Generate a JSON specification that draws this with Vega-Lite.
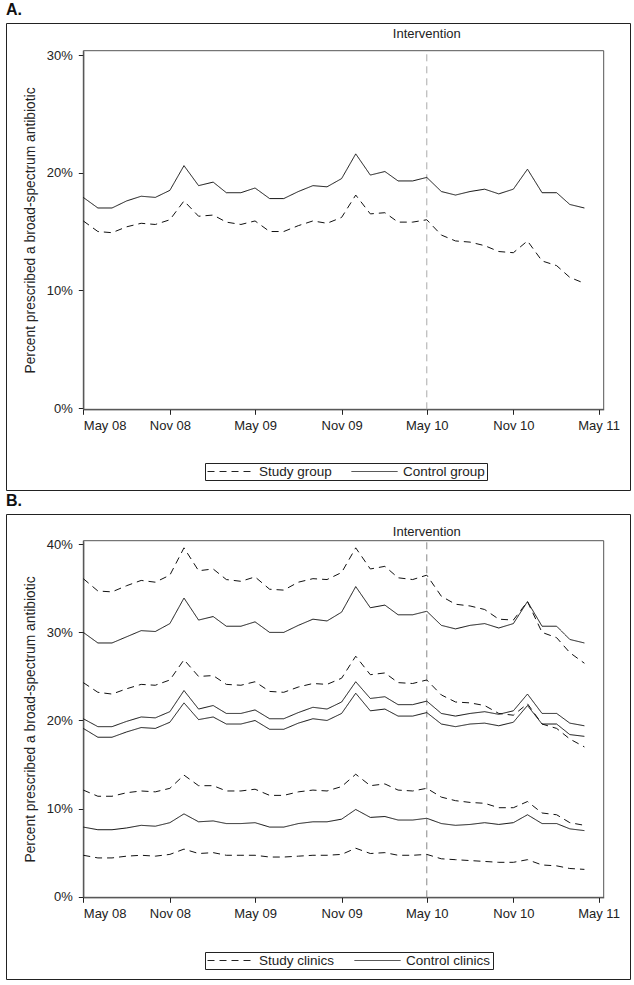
{
  "$schema": "https://vega.github.io/schema/vega-lite/v6.json",
  "padding": {"left": 5, "top": 1, "right": 5, "bottom": 6},
  "spacing": 1,
  "resolve": {"scale": {"strokeDash": "independent", "x": "independent", "y": "independent"}, "legend": {"strokeDash": "independent"}},
  "config": {
    "font": "Liberation Sans",
    "view": {"stroke": "#222", "strokeWidth": 1},
    "axis": {"labelFont": "Liberation Sans", "titleFont": "Liberation Sans", "labelFontSize": 13, "titleFontSize": 13.8, "titleFontWeight": "normal", "labelColor": "#222", "titleColor": "#222", "tickColor": "#222", "domainColor": "#222", "grid": false, "tickSize": 5},
    "legend": {"labelFont": "Liberation Sans", "labelFontSize": 13.5, "labelColor": "#222", "symbolType": "stroke", "symbolSize": 2116, "symbolStrokeWidth": 1, "symbolStrokeColor": "#222", "strokeColor": "#222", "fillColor": "white", "padding": 2, "clipHeight": 13, "labelOffset": 5, "columnPadding": 10, "gridAlign": "all"},
    "title": {"anchor": "start", "frame": "group", "fontSize": 16, "fontWeight": "bold", "font": "Liberation Sans", "offset": 5, "baseline": "alphabetic", "color": "#111"}
  },
  "vconcat": [
    {
      "width": 624,
      "height": 467,
      "title": {"text": "A."},
      "layer": [
        {
          "data": {"values": [{}]},
          "mark": {"type": "rect", "filled": false, "stroke": "#555", "strokeWidth": 1},
          "encoding": {
            "x": {"datum": {"year": 2008, "month": 5, "date": 1}, "type": "temporal", "title": null},
            "x2": {"datum": {"year": 2011, "month": 5, "date": 12}},
            "y": {"datum": -0.11, "type": "quantitative", "title": null},
            "y2": {"datum": 30.37}
          }
        },
        {
          "data": {"values": [{}]},
          "mark": {"type": "rule", "strokeDash": [7, 5], "color": "#aaa", "strokeWidth": 1},
          "encoding": {
            "x": {"datum": {"year": 2010, "month": 5, "date": 1}, "type": "temporal", "title": null},
            "y": {"datum": -0.11, "type": "quantitative", "title": null},
            "y2": {"datum": 30.37}
          }
        },
        {
          "data": {"values": [{}]},
          "mark": {"type": "text", "text": "Intervention", "fontSize": 13, "font": "Liberation Sans", "color": "#222", "align": "center", "baseline": "middle"},
          "encoding": {
            "x": {"datum": {"year": 2010, "month": 5, "date": 1}, "type": "temporal", "title": null},
            "y": {"datum": 31.83, "type": "quantitative", "title": null}
          }
        },
        {
          "data": {
            "format": {"parse": {"d": "date:'%Y-%m'"}},
            "values": [
              {"d": "2008-05", "g": "Control group", "v": 17.9},
              {"d": "2008-06", "g": "Control group", "v": 17.0},
              {"d": "2008-07", "g": "Control group", "v": 17.0},
              {"d": "2008-08", "g": "Control group", "v": 17.6},
              {"d": "2008-09", "g": "Control group", "v": 18.0},
              {"d": "2008-10", "g": "Control group", "v": 17.9},
              {"d": "2008-11", "g": "Control group", "v": 18.5},
              {"d": "2008-12", "g": "Control group", "v": 20.6},
              {"d": "2009-01", "g": "Control group", "v": 18.9},
              {"d": "2009-02", "g": "Control group", "v": 19.2},
              {"d": "2009-03", "g": "Control group", "v": 18.3},
              {"d": "2009-04", "g": "Control group", "v": 18.3},
              {"d": "2009-05", "g": "Control group", "v": 18.7},
              {"d": "2009-06", "g": "Control group", "v": 17.8},
              {"d": "2009-07", "g": "Control group", "v": 17.8},
              {"d": "2009-08", "g": "Control group", "v": 18.4},
              {"d": "2009-09", "g": "Control group", "v": 18.9},
              {"d": "2009-10", "g": "Control group", "v": 18.8},
              {"d": "2009-11", "g": "Control group", "v": 19.5},
              {"d": "2009-12", "g": "Control group", "v": 21.6},
              {"d": "2010-01", "g": "Control group", "v": 19.8},
              {"d": "2010-02", "g": "Control group", "v": 20.1},
              {"d": "2010-03", "g": "Control group", "v": 19.3},
              {"d": "2010-04", "g": "Control group", "v": 19.3},
              {"d": "2010-05", "g": "Control group", "v": 19.6},
              {"d": "2010-06", "g": "Control group", "v": 18.4},
              {"d": "2010-07", "g": "Control group", "v": 18.1},
              {"d": "2010-08", "g": "Control group", "v": 18.4},
              {"d": "2010-09", "g": "Control group", "v": 18.6},
              {"d": "2010-10", "g": "Control group", "v": 18.2},
              {"d": "2010-11", "g": "Control group", "v": 18.6},
              {"d": "2010-12", "g": "Control group", "v": 20.3},
              {"d": "2011-01", "g": "Control group", "v": 18.3},
              {"d": "2011-02", "g": "Control group", "v": 18.3},
              {"d": "2011-03", "g": "Control group", "v": 17.3},
              {"d": "2011-04", "g": "Control group", "v": 17.0},
              {"d": "2008-05", "g": "Study group", "v": 15.9},
              {"d": "2008-06", "g": "Study group", "v": 15.0},
              {"d": "2008-07", "g": "Study group", "v": 14.9},
              {"d": "2008-08", "g": "Study group", "v": 15.4},
              {"d": "2008-09", "g": "Study group", "v": 15.7},
              {"d": "2008-10", "g": "Study group", "v": 15.6},
              {"d": "2008-11", "g": "Study group", "v": 16.0},
              {"d": "2008-12", "g": "Study group", "v": 17.6},
              {"d": "2009-01", "g": "Study group", "v": 16.3},
              {"d": "2009-02", "g": "Study group", "v": 16.4},
              {"d": "2009-03", "g": "Study group", "v": 15.8},
              {"d": "2009-04", "g": "Study group", "v": 15.6},
              {"d": "2009-05", "g": "Study group", "v": 15.9},
              {"d": "2009-06", "g": "Study group", "v": 15.0},
              {"d": "2009-07", "g": "Study group", "v": 15.0},
              {"d": "2009-08", "g": "Study group", "v": 15.5},
              {"d": "2009-09", "g": "Study group", "v": 15.9},
              {"d": "2009-10", "g": "Study group", "v": 15.7},
              {"d": "2009-11", "g": "Study group", "v": 16.2},
              {"d": "2009-12", "g": "Study group", "v": 18.1},
              {"d": "2010-01", "g": "Study group", "v": 16.5},
              {"d": "2010-02", "g": "Study group", "v": 16.6},
              {"d": "2010-03", "g": "Study group", "v": 15.8},
              {"d": "2010-04", "g": "Study group", "v": 15.8},
              {"d": "2010-05", "g": "Study group", "v": 16.0},
              {"d": "2010-06", "g": "Study group", "v": 14.7},
              {"d": "2010-07", "g": "Study group", "v": 14.2},
              {"d": "2010-08", "g": "Study group", "v": 14.1},
              {"d": "2010-09", "g": "Study group", "v": 13.8},
              {"d": "2010-10", "g": "Study group", "v": 13.3},
              {"d": "2010-11", "g": "Study group", "v": 13.2},
              {"d": "2010-12", "g": "Study group", "v": 14.2},
              {"d": "2011-01", "g": "Study group", "v": 12.5},
              {"d": "2011-02", "g": "Study group", "v": 12.1},
              {"d": "2011-03", "g": "Study group", "v": 11.1},
              {"d": "2011-04", "g": "Study group", "v": 10.6}
            ]
          },
          "mark": {"type": "line", "color": "#111", "strokeWidth": 1},
          "encoding": {
            "x": {
              "field": "d", "type": "temporal",
              "scale": {"domain": [{"year": 2008, "month": 5, "date": 1}, {"year": 2011, "month": 5, "date": 12}], "range": [77.3, 597.7]},
              "axis": {"title": null, "orient": "bottom", "offset": -80.7, "format": "%b %y", "labelPadding": 5, "values": [{"year": 2008, "month": 5, "date": 1}, {"year": 2008, "month": 11, "date": 1}, {"year": 2009, "month": 5, "date": 1}, {"year": 2009, "month": 11, "date": 1}, {"year": 2010, "month": 5, "date": 1}, {"year": 2010, "month": 11, "date": 1}, {"year": 2011, "month": 5, "date": 1}]}
            },
            "y": {
              "field": "v", "type": "quantitative",
              "scale": {"domain": [-0.11, 30.37], "range": [386.3, 27.7], "nice": false, "zero": false},
              "axis": {"title": "Percent prescribed a broad-spectrum antibiotic", "orient": "left", "offset": -77.3, "values": [0, 10, 20, 30], "labelExpr": "datum.value + '%'", "labelPadding": 6, "titlePadding": 9}
            },
            "strokeDash": {
              "field": "g", "type": "nominal",
              "scale": {"domain": ["Study group", "Control group"], "range": [[7, 5], [1, 0]]},
              "legend": {"title": null, "orient": "none", "legendX": 199, "legendY": 440, "direction": "horizontal"}
            }
          }
        }
      ]
    },
    {
      "width": 624,
      "height": 465,
      "title": {"text": "B."},
      "layer": [
        {
          "data": {"values": [{}]},
          "mark": {"type": "rect", "filled": false, "stroke": "#555", "strokeWidth": 1},
          "encoding": {
            "x": {"datum": {"year": 2008, "month": 5, "date": 1}, "type": "temporal", "title": null},
            "x2": {"datum": {"year": 2011, "month": 5, "date": 12}},
            "y": {"datum": -0.07, "type": "quantitative", "title": null},
            "y2": {"datum": 40.41}
          }
        },
        {
          "data": {"values": [{}]},
          "mark": {"type": "rule", "strokeDash": [7, 5], "color": "#888", "strokeWidth": 1},
          "encoding": {
            "x": {"datum": {"year": 2010, "month": 5, "date": 1}, "type": "temporal", "title": null},
            "y": {"datum": -0.07, "type": "quantitative", "title": null},
            "y2": {"datum": 40.41}
          }
        },
        {
          "data": {"values": [{}]},
          "mark": {"type": "text", "text": "Intervention", "fontSize": 13, "font": "Liberation Sans", "color": "#222", "align": "center", "baseline": "middle"},
          "encoding": {
            "x": {"datum": {"year": 2010, "month": 5, "date": 1}, "type": "temporal", "title": null},
            "y": {"datum": 41.45, "type": "quantitative", "title": null}
          }
        },
        {
          "data": {
            "format": {"parse": {"d": "date:'%Y-%m'"}},
            "values": [
              {"d": "2008-05", "g": "Study clinics", "s": "D1", "v": 36.1},
              {"d": "2008-06", "g": "Study clinics", "s": "D1", "v": 34.7},
              {"d": "2008-07", "g": "Study clinics", "s": "D1", "v": 34.6},
              {"d": "2008-08", "g": "Study clinics", "s": "D1", "v": 35.3},
              {"d": "2008-09", "g": "Study clinics", "s": "D1", "v": 35.9},
              {"d": "2008-10", "g": "Study clinics", "s": "D1", "v": 35.7},
              {"d": "2008-11", "g": "Study clinics", "s": "D1", "v": 36.5},
              {"d": "2008-12", "g": "Study clinics", "s": "D1", "v": 39.6},
              {"d": "2009-01", "g": "Study clinics", "s": "D1", "v": 37.0},
              {"d": "2009-02", "g": "Study clinics", "s": "D1", "v": 37.2},
              {"d": "2009-03", "g": "Study clinics", "s": "D1", "v": 36.0},
              {"d": "2009-04", "g": "Study clinics", "s": "D1", "v": 35.8},
              {"d": "2009-05", "g": "Study clinics", "s": "D1", "v": 36.3},
              {"d": "2009-06", "g": "Study clinics", "s": "D1", "v": 34.9},
              {"d": "2009-07", "g": "Study clinics", "s": "D1", "v": 34.8},
              {"d": "2009-08", "g": "Study clinics", "s": "D1", "v": 35.7},
              {"d": "2009-09", "g": "Study clinics", "s": "D1", "v": 36.1},
              {"d": "2009-10", "g": "Study clinics", "s": "D1", "v": 36.0},
              {"d": "2009-11", "g": "Study clinics", "s": "D1", "v": 36.8},
              {"d": "2009-12", "g": "Study clinics", "s": "D1", "v": 39.6},
              {"d": "2010-01", "g": "Study clinics", "s": "D1", "v": 37.2},
              {"d": "2010-02", "g": "Study clinics", "s": "D1", "v": 37.5},
              {"d": "2010-03", "g": "Study clinics", "s": "D1", "v": 36.2},
              {"d": "2010-04", "g": "Study clinics", "s": "D1", "v": 36.0},
              {"d": "2010-05", "g": "Study clinics", "s": "D1", "v": 36.5},
              {"d": "2010-06", "g": "Study clinics", "s": "D1", "v": 34.1},
              {"d": "2010-07", "g": "Study clinics", "s": "D1", "v": 33.2},
              {"d": "2010-08", "g": "Study clinics", "s": "D1", "v": 33.0},
              {"d": "2010-09", "g": "Study clinics", "s": "D1", "v": 32.6},
              {"d": "2010-10", "g": "Study clinics", "s": "D1", "v": 31.5},
              {"d": "2010-11", "g": "Study clinics", "s": "D1", "v": 31.4},
              {"d": "2010-12", "g": "Study clinics", "s": "D1", "v": 33.5},
              {"d": "2011-01", "g": "Study clinics", "s": "D1", "v": 30.0},
              {"d": "2011-02", "g": "Study clinics", "s": "D1", "v": 29.4},
              {"d": "2011-03", "g": "Study clinics", "s": "D1", "v": 27.7},
              {"d": "2011-04", "g": "Study clinics", "s": "D1", "v": 26.5},

              {"d": "2008-05", "g": "Control clinics", "s": "S1", "v": 30.0},
              {"d": "2008-06", "g": "Control clinics", "s": "S1", "v": 28.8},
              {"d": "2008-07", "g": "Control clinics", "s": "S1", "v": 28.8},
              {"d": "2008-08", "g": "Control clinics", "s": "S1", "v": 29.5},
              {"d": "2008-09", "g": "Control clinics", "s": "S1", "v": 30.2},
              {"d": "2008-10", "g": "Control clinics", "s": "S1", "v": 30.1},
              {"d": "2008-11", "g": "Control clinics", "s": "S1", "v": 31.0},
              {"d": "2008-12", "g": "Control clinics", "s": "S1", "v": 33.9},
              {"d": "2009-01", "g": "Control clinics", "s": "S1", "v": 31.4},
              {"d": "2009-02", "g": "Control clinics", "s": "S1", "v": 31.8},
              {"d": "2009-03", "g": "Control clinics", "s": "S1", "v": 30.7},
              {"d": "2009-04", "g": "Control clinics", "s": "S1", "v": 30.7},
              {"d": "2009-05", "g": "Control clinics", "s": "S1", "v": 31.2},
              {"d": "2009-06", "g": "Control clinics", "s": "S1", "v": 30.0},
              {"d": "2009-07", "g": "Control clinics", "s": "S1", "v": 30.0},
              {"d": "2009-08", "g": "Control clinics", "s": "S1", "v": 30.8},
              {"d": "2009-09", "g": "Control clinics", "s": "S1", "v": 31.5},
              {"d": "2009-10", "g": "Control clinics", "s": "S1", "v": 31.3},
              {"d": "2009-11", "g": "Control clinics", "s": "S1", "v": 32.3},
              {"d": "2009-12", "g": "Control clinics", "s": "S1", "v": 35.2},
              {"d": "2010-01", "g": "Control clinics", "s": "S1", "v": 32.8},
              {"d": "2010-02", "g": "Control clinics", "s": "S1", "v": 33.1},
              {"d": "2010-03", "g": "Control clinics", "s": "S1", "v": 32.0},
              {"d": "2010-04", "g": "Control clinics", "s": "S1", "v": 32.0},
              {"d": "2010-05", "g": "Control clinics", "s": "S1", "v": 32.4},
              {"d": "2010-06", "g": "Control clinics", "s": "S1", "v": 30.8},
              {"d": "2010-07", "g": "Control clinics", "s": "S1", "v": 30.4},
              {"d": "2010-08", "g": "Control clinics", "s": "S1", "v": 30.8},
              {"d": "2010-09", "g": "Control clinics", "s": "S1", "v": 31.0},
              {"d": "2010-10", "g": "Control clinics", "s": "S1", "v": 30.5},
              {"d": "2010-11", "g": "Control clinics", "s": "S1", "v": 31.0},
              {"d": "2010-12", "g": "Control clinics", "s": "S1", "v": 33.5},
              {"d": "2011-01", "g": "Control clinics", "s": "S1", "v": 30.7},
              {"d": "2011-02", "g": "Control clinics", "s": "S1", "v": 30.7},
              {"d": "2011-03", "g": "Control clinics", "s": "S1", "v": 29.2},
              {"d": "2011-04", "g": "Control clinics", "s": "S1", "v": 28.8},

              {"d": "2008-05", "g": "Study clinics", "s": "D2", "v": 24.3},
              {"d": "2008-06", "g": "Study clinics", "s": "D2", "v": 23.2},
              {"d": "2008-07", "g": "Study clinics", "s": "D2", "v": 23.0},
              {"d": "2008-08", "g": "Study clinics", "s": "D2", "v": 23.6},
              {"d": "2008-09", "g": "Study clinics", "s": "D2", "v": 24.1},
              {"d": "2008-10", "g": "Study clinics", "s": "D2", "v": 24.0},
              {"d": "2008-11", "g": "Study clinics", "s": "D2", "v": 24.6},
              {"d": "2008-12", "g": "Study clinics", "s": "D2", "v": 26.9},
              {"d": "2009-01", "g": "Study clinics", "s": "D2", "v": 25.0},
              {"d": "2009-02", "g": "Study clinics", "s": "D2", "v": 25.1},
              {"d": "2009-03", "g": "Study clinics", "s": "D2", "v": 24.1},
              {"d": "2009-04", "g": "Study clinics", "s": "D2", "v": 24.0},
              {"d": "2009-05", "g": "Study clinics", "s": "D2", "v": 24.4},
              {"d": "2009-06", "g": "Study clinics", "s": "D2", "v": 23.3},
              {"d": "2009-07", "g": "Study clinics", "s": "D2", "v": 23.2},
              {"d": "2009-08", "g": "Study clinics", "s": "D2", "v": 23.8},
              {"d": "2009-09", "g": "Study clinics", "s": "D2", "v": 24.2},
              {"d": "2009-10", "g": "Study clinics", "s": "D2", "v": 24.1},
              {"d": "2009-11", "g": "Study clinics", "s": "D2", "v": 24.8},
              {"d": "2009-12", "g": "Study clinics", "s": "D2", "v": 27.3},
              {"d": "2010-01", "g": "Study clinics", "s": "D2", "v": 25.2},
              {"d": "2010-02", "g": "Study clinics", "s": "D2", "v": 25.4},
              {"d": "2010-03", "g": "Study clinics", "s": "D2", "v": 24.3},
              {"d": "2010-04", "g": "Study clinics", "s": "D2", "v": 24.2},
              {"d": "2010-05", "g": "Study clinics", "s": "D2", "v": 24.6},
              {"d": "2010-06", "g": "Study clinics", "s": "D2", "v": 22.9},
              {"d": "2010-07", "g": "Study clinics", "s": "D2", "v": 22.1},
              {"d": "2010-08", "g": "Study clinics", "s": "D2", "v": 22.0},
              {"d": "2010-09", "g": "Study clinics", "s": "D2", "v": 21.7},
              {"d": "2010-10", "g": "Study clinics", "s": "D2", "v": 20.8},
              {"d": "2010-11", "g": "Study clinics", "s": "D2", "v": 20.6},
              {"d": "2010-12", "g": "Study clinics", "s": "D2", "v": 21.9},
              {"d": "2011-01", "g": "Study clinics", "s": "D2", "v": 19.6},
              {"d": "2011-02", "g": "Study clinics", "s": "D2", "v": 19.1},
              {"d": "2011-03", "g": "Study clinics", "s": "D2", "v": 17.9},
              {"d": "2011-04", "g": "Study clinics", "s": "D2", "v": 17.0},

              {"d": "2008-05", "g": "Control clinics", "s": "S2", "v": 20.2},
              {"d": "2008-06", "g": "Control clinics", "s": "S2", "v": 19.3},
              {"d": "2008-07", "g": "Control clinics", "s": "S2", "v": 19.3},
              {"d": "2008-08", "g": "Control clinics", "s": "S2", "v": 19.9},
              {"d": "2008-09", "g": "Control clinics", "s": "S2", "v": 20.4},
              {"d": "2008-10", "g": "Control clinics", "s": "S2", "v": 20.3},
              {"d": "2008-11", "g": "Control clinics", "s": "S2", "v": 21.0},
              {"d": "2008-12", "g": "Control clinics", "s": "S2", "v": 23.4},
              {"d": "2009-01", "g": "Control clinics", "s": "S2", "v": 21.3},
              {"d": "2009-02", "g": "Control clinics", "s": "S2", "v": 21.7},
              {"d": "2009-03", "g": "Control clinics", "s": "S2", "v": 20.8},
              {"d": "2009-04", "g": "Control clinics", "s": "S2", "v": 20.8},
              {"d": "2009-05", "g": "Control clinics", "s": "S2", "v": 21.2},
              {"d": "2009-06", "g": "Control clinics", "s": "S2", "v": 20.2},
              {"d": "2009-07", "g": "Control clinics", "s": "S2", "v": 20.2},
              {"d": "2009-08", "g": "Control clinics", "s": "S2", "v": 20.9},
              {"d": "2009-09", "g": "Control clinics", "s": "S2", "v": 21.5},
              {"d": "2009-10", "g": "Control clinics", "s": "S2", "v": 21.3},
              {"d": "2009-11", "g": "Control clinics", "s": "S2", "v": 22.1},
              {"d": "2009-12", "g": "Control clinics", "s": "S2", "v": 24.4},
              {"d": "2010-01", "g": "Control clinics", "s": "S2", "v": 22.5},
              {"d": "2010-02", "g": "Control clinics", "s": "S2", "v": 22.7},
              {"d": "2010-03", "g": "Control clinics", "s": "S2", "v": 21.8},
              {"d": "2010-04", "g": "Control clinics", "s": "S2", "v": 21.8},
              {"d": "2010-05", "g": "Control clinics", "s": "S2", "v": 22.2},
              {"d": "2010-06", "g": "Control clinics", "s": "S2", "v": 20.8},
              {"d": "2010-07", "g": "Control clinics", "s": "S2", "v": 20.5},
              {"d": "2010-08", "g": "Control clinics", "s": "S2", "v": 20.8},
              {"d": "2010-09", "g": "Control clinics", "s": "S2", "v": 21.0},
              {"d": "2010-10", "g": "Control clinics", "s": "S2", "v": 20.7},
              {"d": "2010-11", "g": "Control clinics", "s": "S2", "v": 21.1},
              {"d": "2010-12", "g": "Control clinics", "s": "S2", "v": 23.0},
              {"d": "2011-01", "g": "Control clinics", "s": "S2", "v": 20.8},
              {"d": "2011-02", "g": "Control clinics", "s": "S2", "v": 20.8},
              {"d": "2011-03", "g": "Control clinics", "s": "S2", "v": 19.7},
              {"d": "2011-04", "g": "Control clinics", "s": "S2", "v": 19.4},

              {"d": "2008-05", "g": "Control clinics", "s": "S3", "v": 19.1},
              {"d": "2008-06", "g": "Control clinics", "s": "S3", "v": 18.1},
              {"d": "2008-07", "g": "Control clinics", "s": "S3", "v": 18.1},
              {"d": "2008-08", "g": "Control clinics", "s": "S3", "v": 18.7},
              {"d": "2008-09", "g": "Control clinics", "s": "S3", "v": 19.2},
              {"d": "2008-10", "g": "Control clinics", "s": "S3", "v": 19.1},
              {"d": "2008-11", "g": "Control clinics", "s": "S3", "v": 19.8},
              {"d": "2008-12", "g": "Control clinics", "s": "S3", "v": 22.0},
              {"d": "2009-01", "g": "Control clinics", "s": "S3", "v": 20.1},
              {"d": "2009-02", "g": "Control clinics", "s": "S3", "v": 20.4},
              {"d": "2009-03", "g": "Control clinics", "s": "S3", "v": 19.6},
              {"d": "2009-04", "g": "Control clinics", "s": "S3", "v": 19.6},
              {"d": "2009-05", "g": "Control clinics", "s": "S3", "v": 20.0},
              {"d": "2009-06", "g": "Control clinics", "s": "S3", "v": 19.0},
              {"d": "2009-07", "g": "Control clinics", "s": "S3", "v": 19.0},
              {"d": "2009-08", "g": "Control clinics", "s": "S3", "v": 19.7},
              {"d": "2009-09", "g": "Control clinics", "s": "S3", "v": 20.2},
              {"d": "2009-10", "g": "Control clinics", "s": "S3", "v": 20.0},
              {"d": "2009-11", "g": "Control clinics", "s": "S3", "v": 20.8},
              {"d": "2009-12", "g": "Control clinics", "s": "S3", "v": 23.1},
              {"d": "2010-01", "g": "Control clinics", "s": "S3", "v": 21.1},
              {"d": "2010-02", "g": "Control clinics", "s": "S3", "v": 21.3},
              {"d": "2010-03", "g": "Control clinics", "s": "S3", "v": 20.5},
              {"d": "2010-04", "g": "Control clinics", "s": "S3", "v": 20.5},
              {"d": "2010-05", "g": "Control clinics", "s": "S3", "v": 20.9},
              {"d": "2010-06", "g": "Control clinics", "s": "S3", "v": 19.6},
              {"d": "2010-07", "g": "Control clinics", "s": "S3", "v": 19.3},
              {"d": "2010-08", "g": "Control clinics", "s": "S3", "v": 19.6},
              {"d": "2010-09", "g": "Control clinics", "s": "S3", "v": 19.7},
              {"d": "2010-10", "g": "Control clinics", "s": "S3", "v": 19.4},
              {"d": "2010-11", "g": "Control clinics", "s": "S3", "v": 19.8},
              {"d": "2010-12", "g": "Control clinics", "s": "S3", "v": 21.7},
              {"d": "2011-01", "g": "Control clinics", "s": "S3", "v": 19.6},
              {"d": "2011-02", "g": "Control clinics", "s": "S3", "v": 19.6},
              {"d": "2011-03", "g": "Control clinics", "s": "S3", "v": 18.4},
              {"d": "2011-04", "g": "Control clinics", "s": "S3", "v": 18.2},

              {"d": "2008-05", "g": "Study clinics", "s": "D3", "v": 12.1},
              {"d": "2008-06", "g": "Study clinics", "s": "D3", "v": 11.4},
              {"d": "2008-07", "g": "Study clinics", "s": "D3", "v": 11.4},
              {"d": "2008-08", "g": "Study clinics", "s": "D3", "v": 11.8},
              {"d": "2008-09", "g": "Study clinics", "s": "D3", "v": 12.0},
              {"d": "2008-10", "g": "Study clinics", "s": "D3", "v": 11.9},
              {"d": "2008-11", "g": "Study clinics", "s": "D3", "v": 12.3},
              {"d": "2008-12", "g": "Study clinics", "s": "D3", "v": 13.8},
              {"d": "2009-01", "g": "Study clinics", "s": "D3", "v": 12.6},
              {"d": "2009-02", "g": "Study clinics", "s": "D3", "v": 12.6},
              {"d": "2009-03", "g": "Study clinics", "s": "D3", "v": 12.0},
              {"d": "2009-04", "g": "Study clinics", "s": "D3", "v": 12.0},
              {"d": "2009-05", "g": "Study clinics", "s": "D3", "v": 12.2},
              {"d": "2009-06", "g": "Study clinics", "s": "D3", "v": 11.5},
              {"d": "2009-07", "g": "Study clinics", "s": "D3", "v": 11.5},
              {"d": "2009-08", "g": "Study clinics", "s": "D3", "v": 11.9},
              {"d": "2009-09", "g": "Study clinics", "s": "D3", "v": 12.1},
              {"d": "2009-10", "g": "Study clinics", "s": "D3", "v": 12.0},
              {"d": "2009-11", "g": "Study clinics", "s": "D3", "v": 12.5},
              {"d": "2009-12", "g": "Study clinics", "s": "D3", "v": 13.9},
              {"d": "2010-01", "g": "Study clinics", "s": "D3", "v": 12.6},
              {"d": "2010-02", "g": "Study clinics", "s": "D3", "v": 12.8},
              {"d": "2010-03", "g": "Study clinics", "s": "D3", "v": 12.1},
              {"d": "2010-04", "g": "Study clinics", "s": "D3", "v": 12.0},
              {"d": "2010-05", "g": "Study clinics", "s": "D3", "v": 12.3},
              {"d": "2010-06", "g": "Study clinics", "s": "D3", "v": 11.3},
              {"d": "2010-07", "g": "Study clinics", "s": "D3", "v": 10.9},
              {"d": "2010-08", "g": "Study clinics", "s": "D3", "v": 10.7},
              {"d": "2010-09", "g": "Study clinics", "s": "D3", "v": 10.6},
              {"d": "2010-10", "g": "Study clinics", "s": "D3", "v": 10.1},
              {"d": "2010-11", "g": "Study clinics", "s": "D3", "v": 10.1},
              {"d": "2010-12", "g": "Study clinics", "s": "D3", "v": 10.8},
              {"d": "2011-01", "g": "Study clinics", "s": "D3", "v": 9.5},
              {"d": "2011-02", "g": "Study clinics", "s": "D3", "v": 9.3},
              {"d": "2011-03", "g": "Study clinics", "s": "D3", "v": 8.4},
              {"d": "2011-04", "g": "Study clinics", "s": "D3", "v": 8.1},

              {"d": "2008-05", "g": "Control clinics", "s": "S4", "v": 7.9},
              {"d": "2008-06", "g": "Control clinics", "s": "S4", "v": 7.6},
              {"d": "2008-07", "g": "Control clinics", "s": "S4", "v": 7.6},
              {"d": "2008-08", "g": "Control clinics", "s": "S4", "v": 7.8},
              {"d": "2008-09", "g": "Control clinics", "s": "S4", "v": 8.1},
              {"d": "2008-10", "g": "Control clinics", "s": "S4", "v": 8.0},
              {"d": "2008-11", "g": "Control clinics", "s": "S4", "v": 8.4},
              {"d": "2008-12", "g": "Control clinics", "s": "S4", "v": 9.4},
              {"d": "2009-01", "g": "Control clinics", "s": "S4", "v": 8.5},
              {"d": "2009-02", "g": "Control clinics", "s": "S4", "v": 8.6},
              {"d": "2009-03", "g": "Control clinics", "s": "S4", "v": 8.3},
              {"d": "2009-04", "g": "Control clinics", "s": "S4", "v": 8.3},
              {"d": "2009-05", "g": "Control clinics", "s": "S4", "v": 8.4},
              {"d": "2009-06", "g": "Control clinics", "s": "S4", "v": 7.9},
              {"d": "2009-07", "g": "Control clinics", "s": "S4", "v": 7.9},
              {"d": "2009-08", "g": "Control clinics", "s": "S4", "v": 8.3},
              {"d": "2009-09", "g": "Control clinics", "s": "S4", "v": 8.5},
              {"d": "2009-10", "g": "Control clinics", "s": "S4", "v": 8.5},
              {"d": "2009-11", "g": "Control clinics", "s": "S4", "v": 8.8},
              {"d": "2009-12", "g": "Control clinics", "s": "S4", "v": 9.9},
              {"d": "2010-01", "g": "Control clinics", "s": "S4", "v": 9.0},
              {"d": "2010-02", "g": "Control clinics", "s": "S4", "v": 9.1},
              {"d": "2010-03", "g": "Control clinics", "s": "S4", "v": 8.7},
              {"d": "2010-04", "g": "Control clinics", "s": "S4", "v": 8.7},
              {"d": "2010-05", "g": "Control clinics", "s": "S4", "v": 8.9},
              {"d": "2010-06", "g": "Control clinics", "s": "S4", "v": 8.3},
              {"d": "2010-07", "g": "Control clinics", "s": "S4", "v": 8.1},
              {"d": "2010-08", "g": "Control clinics", "s": "S4", "v": 8.2},
              {"d": "2010-09", "g": "Control clinics", "s": "S4", "v": 8.4},
              {"d": "2010-10", "g": "Control clinics", "s": "S4", "v": 8.2},
              {"d": "2010-11", "g": "Control clinics", "s": "S4", "v": 8.4},
              {"d": "2010-12", "g": "Control clinics", "s": "S4", "v": 9.3},
              {"d": "2011-01", "g": "Control clinics", "s": "S4", "v": 8.3},
              {"d": "2011-02", "g": "Control clinics", "s": "S4", "v": 8.3},
              {"d": "2011-03", "g": "Control clinics", "s": "S4", "v": 7.7},
              {"d": "2011-04", "g": "Control clinics", "s": "S4", "v": 7.5},

              {"d": "2008-05", "g": "Study clinics", "s": "D4", "v": 4.7},
              {"d": "2008-06", "g": "Study clinics", "s": "D4", "v": 4.4},
              {"d": "2008-07", "g": "Study clinics", "s": "D4", "v": 4.4},
              {"d": "2008-08", "g": "Study clinics", "s": "D4", "v": 4.6},
              {"d": "2008-09", "g": "Study clinics", "s": "D4", "v": 4.7},
              {"d": "2008-10", "g": "Study clinics", "s": "D4", "v": 4.6},
              {"d": "2008-11", "g": "Study clinics", "s": "D4", "v": 4.8},
              {"d": "2008-12", "g": "Study clinics", "s": "D4", "v": 5.4},
              {"d": "2009-01", "g": "Study clinics", "s": "D4", "v": 4.9},
              {"d": "2009-02", "g": "Study clinics", "s": "D4", "v": 5.0},
              {"d": "2009-03", "g": "Study clinics", "s": "D4", "v": 4.7},
              {"d": "2009-04", "g": "Study clinics", "s": "D4", "v": 4.7},
              {"d": "2009-05", "g": "Study clinics", "s": "D4", "v": 4.7},
              {"d": "2009-06", "g": "Study clinics", "s": "D4", "v": 4.5},
              {"d": "2009-07", "g": "Study clinics", "s": "D4", "v": 4.5},
              {"d": "2009-08", "g": "Study clinics", "s": "D4", "v": 4.6},
              {"d": "2009-09", "g": "Study clinics", "s": "D4", "v": 4.7},
              {"d": "2009-10", "g": "Study clinics", "s": "D4", "v": 4.7},
              {"d": "2009-11", "g": "Study clinics", "s": "D4", "v": 4.8},
              {"d": "2009-12", "g": "Study clinics", "s": "D4", "v": 5.5},
              {"d": "2010-01", "g": "Study clinics", "s": "D4", "v": 4.9},
              {"d": "2010-02", "g": "Study clinics", "s": "D4", "v": 5.0},
              {"d": "2010-03", "g": "Study clinics", "s": "D4", "v": 4.7},
              {"d": "2010-04", "g": "Study clinics", "s": "D4", "v": 4.7},
              {"d": "2010-05", "g": "Study clinics", "s": "D4", "v": 4.8},
              {"d": "2010-06", "g": "Study clinics", "s": "D4", "v": 4.3},
              {"d": "2010-07", "g": "Study clinics", "s": "D4", "v": 4.2},
              {"d": "2010-08", "g": "Study clinics", "s": "D4", "v": 4.1},
              {"d": "2010-09", "g": "Study clinics", "s": "D4", "v": 4.0},
              {"d": "2010-10", "g": "Study clinics", "s": "D4", "v": 3.9},
              {"d": "2010-11", "g": "Study clinics", "s": "D4", "v": 3.9},
              {"d": "2010-12", "g": "Study clinics", "s": "D4", "v": 4.2},
              {"d": "2011-01", "g": "Study clinics", "s": "D4", "v": 3.6},
              {"d": "2011-02", "g": "Study clinics", "s": "D4", "v": 3.5},
              {"d": "2011-03", "g": "Study clinics", "s": "D4", "v": 3.2},
              {"d": "2011-04", "g": "Study clinics", "s": "D4", "v": 3.1}
            ]
          },
          "mark": {"type": "line", "color": "#111", "strokeWidth": 1},
          "encoding": {
            "x": {
              "field": "d", "type": "temporal",
              "scale": {"domain": [{"year": 2008, "month": 5, "date": 1}, {"year": 2011, "month": 5, "date": 12}], "range": [77.3, 597.7]},
              "axis": {"title": null, "orient": "bottom", "offset": -81.7, "format": "%b %y", "labelPadding": 5, "values": [{"year": 2008, "month": 5, "date": 1}, {"year": 2008, "month": 11, "date": 1}, {"year": 2009, "month": 5, "date": 1}, {"year": 2009, "month": 11, "date": 1}, {"year": 2010, "month": 5, "date": 1}, {"year": 2010, "month": 11, "date": 1}, {"year": 2011, "month": 5, "date": 1}]}
            },
            "y": {
              "field": "v", "type": "quantitative",
              "scale": {"domain": [-0.07, 40.41], "range": [383.3, 26.7], "nice": false, "zero": false},
              "axis": {"title": "Percent prescribed a broad-spectrum antibiotic", "orient": "left", "offset": -77.3, "values": [0, 10, 20, 30, 40], "labelExpr": "datum.value + '%'", "labelPadding": 6, "titlePadding": 9}
            },
            "detail": {"field": "s", "type": "nominal"},
            "strokeDash": {
              "field": "g", "type": "nominal",
              "scale": {"domain": ["Study clinics", "Control clinics"], "range": [[7, 5], [1, 0]]},
              "legend": {"title": null, "orient": "none", "legendX": 199, "legendY": 438, "direction": "horizontal"}
            }
          }
        }
      ]
    }
  ]
}
